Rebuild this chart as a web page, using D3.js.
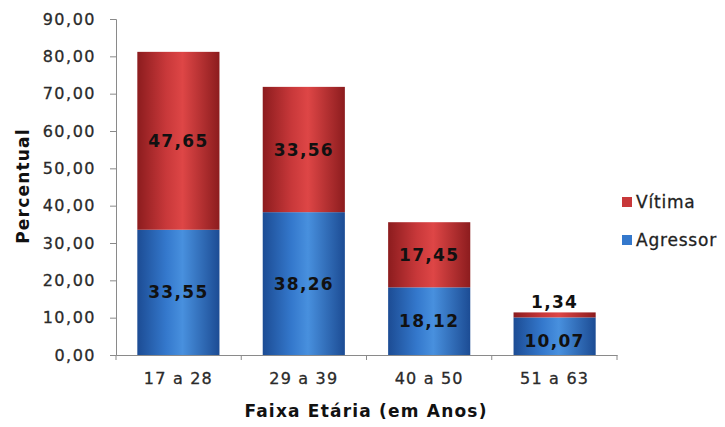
<!DOCTYPE html>
<meta charset="utf-8">
<script src="https://d3js.org/d3.v7.min.js"></script>
<style>
  body { margin: 0; background: #fff; }
  svg text { font-family: "DejaVu Sans", Verdana, sans-serif; }
</style>
<body>
<div id="chart"></div>
<script>
  // data
  var categories = ["17 a 28", "29 a 39", "40 a 50", "51 a 63"];
  var agressor = [33.55, 38.26, 18.12, 10.07];
  var vitima = [47.65, 33.56, 17.45, 1.34];
  var yTicks = [0, 10, 20, 30, 40, 50, 60, 70, 80, 90];

  var width = 725, height = 427;
  var margin = {left: 116, right: 108, top: 19, bottom: 72};

  var svg = d3.select("#chart").append("svg")
      .attr("width", width)
      .attr("height", height);

  var defs = svg.append("defs");
  function cyl(id, edge, mid, light) {
    var g = defs.append("linearGradient").attr("id", id)
        .attr("x1", "0%").attr("x2", "100%").attr("y1", "0%").attr("y2", "0%");
    g.append("stop").attr("offset", "0%").attr("stop-color", edge);
    g.append("stop").attr("offset", "35%").attr("stop-color", mid);
    g.append("stop").attr("offset", "55%").attr("stop-color", light);
    g.append("stop").attr("offset", "100%").attr("stop-color", edge);
  }
  cyl("gradRed", "#8c1c1e", "#c8383a", "#de4646");
  cyl("gradBlue", "#1c4c94", "#3478cc", "#4890de");

  var x = d3.scaleBand()
      .domain(categories)
      .range([margin.left, width - margin.right])
      .paddingInner(0.345)
      .paddingOuter(0.17);

  var y = d3.scaleLinear()
      .domain([0, 90])
      .range([height - margin.bottom, margin.top]);

  var fmt = function(v) { return d3.format(".2f")(v).replace(".", ","); };

  // y axis
  var yAxis = svg.append("g")
      .attr("transform", "translate(" + margin.left + ",0)")
      .call(d3.axisLeft(y).tickValues(yTicks).tickSize(6).tickPadding(14).tickFormat(fmt));
  yAxis.selectAll("line, path").attr("stroke", "#8a8a8a");
  yAxis.selectAll("text")
      .attr("font-size", "16px")
      .attr("letter-spacing", "1.5px")
      .attr("fill", "#2a2a2a")
      .attr("stroke", "#2a2a2a")
      .attr("stroke-width", 0.3);

  // x axis with ticks between the groups
  var xAxis = svg.append("g")
      .attr("transform", "translate(0," + y(0) + ")")
      .call(d3.axisBottom(x).tickSize(0).tickPadding(18));
  xAxis.select("path").attr("stroke", "#8a8a8a");
  xAxis.selectAll("text")
      .attr("font-size", "16px")
      .attr("letter-spacing", "1.2px")
      .attr("fill", "#2a2a2a")
      .attr("stroke", "#2a2a2a")
      .attr("stroke-width", 0.3);
  var bounds = d3.range(categories.length + 1).map(function(i) { return margin.left + i * (width - margin.left - margin.right) / categories.length; });
  svg.append("g").selectAll("line")
      .data(bounds)
      .join("line")
      .attr("x1", function(d) { return d; })
      .attr("x2", function(d) { return d; })
      .attr("y1", y(0))
      .attr("y2", y(0) + 5)
      .attr("stroke", "#8a8a8a");

  // stacked bars
  var rows = categories.map(function(c, i) { return {cat: c, a: agressor[i], v: vitima[i]}; });

  svg.append("g").selectAll("rect")
      .data(rows)
      .join("rect")
      .attr("x", function(d) { return x(d.cat); })
      .attr("width", x.bandwidth())
      .attr("y", function(d) { return y(d.a); })
      .attr("height", function(d) { return y(0) - y(d.a); })
      .attr("fill", "url(#gradBlue)");

  svg.append("g").selectAll("rect")
      .data(rows)
      .join("rect")
      .attr("x", function(d) { return x(d.cat); })
      .attr("width", x.bandwidth())
      .attr("y", function(d) { return y(d.a + d.v); })
      .attr("height", function(d) { return y(d.a) - y(d.a + d.v); })
      .attr("fill", "url(#gradRed)");

  // value labels
  var lab = svg.append("g")
      .attr("font-size", "17px")
      .attr("font-weight", "bold")
      .attr("letter-spacing", "1.3px")
      .attr("fill", "#111")
      .attr("text-anchor", "middle");

  lab.selectAll("text.a")
      .data(rows)
      .join("text")
      .attr("class", "a")
      .attr("x", function(d) { return x(d.cat) + x.bandwidth() / 2; })
      .attr("y", function(d) { return d.a < 15 ? y(d.a / 2) + 11 : y(d.a / 2) + 6; })
      .text(function(d) { return fmt(d.a); });

  lab.selectAll("text.v")
      .data(rows)
      .join("text")
      .attr("class", "v")
      .attr("x", function(d) { return x(d.cat) + x.bandwidth() / 2; })
      .attr("y", function(d) { return d.v < 5 ? y(d.a + d.v) - 4 : y(d.a + d.v / 2) + 6; })
      .text(function(d) { return fmt(d.v); });

  // axis titles
  svg.append("text")
      .attr("transform", "translate(29,186) rotate(-90)")
      .attr("text-anchor", "middle")
      .attr("font-size", "17px")
      .attr("font-weight", "bold")
      .attr("letter-spacing", "1.2px")
      .attr("fill", "#111")
      .text("Percentual");

  svg.append("text")
      .attr("x", 366)
      .attr("y", 417)
      .attr("text-anchor", "middle")
      .attr("font-size", "17px")
      .attr("font-weight", "bold")
      .attr("letter-spacing", "1.2px")
      .attr("fill", "#111")
      .text("Faixa Etária (em Anos)");

  // legend
  var series = [{name: "Vítima", color: "#c8383a"}, {name: "Agressor", color: "#3478cc"}];
  var leg = svg.append("g").selectAll("g")
      .data(series)
      .join("g")
      .attr("transform", function(d, i) { return "translate(622," + (197 + i * 38) + ")"; });
  leg.append("rect")
      .attr("width", 10).attr("height", 10)
      .attr("fill", function(d) { return d.color; });
  leg.append("text")
      .attr("x", 14)
      .attr("y", 11)
      .attr("font-size", "17px")
      .attr("letter-spacing", "0.8px")
      .attr("fill", "#222")
      .attr("stroke", "#222")
      .attr("stroke-width", 0.3)
      .text(function(d) { return d.name; });
</script>
</body>
